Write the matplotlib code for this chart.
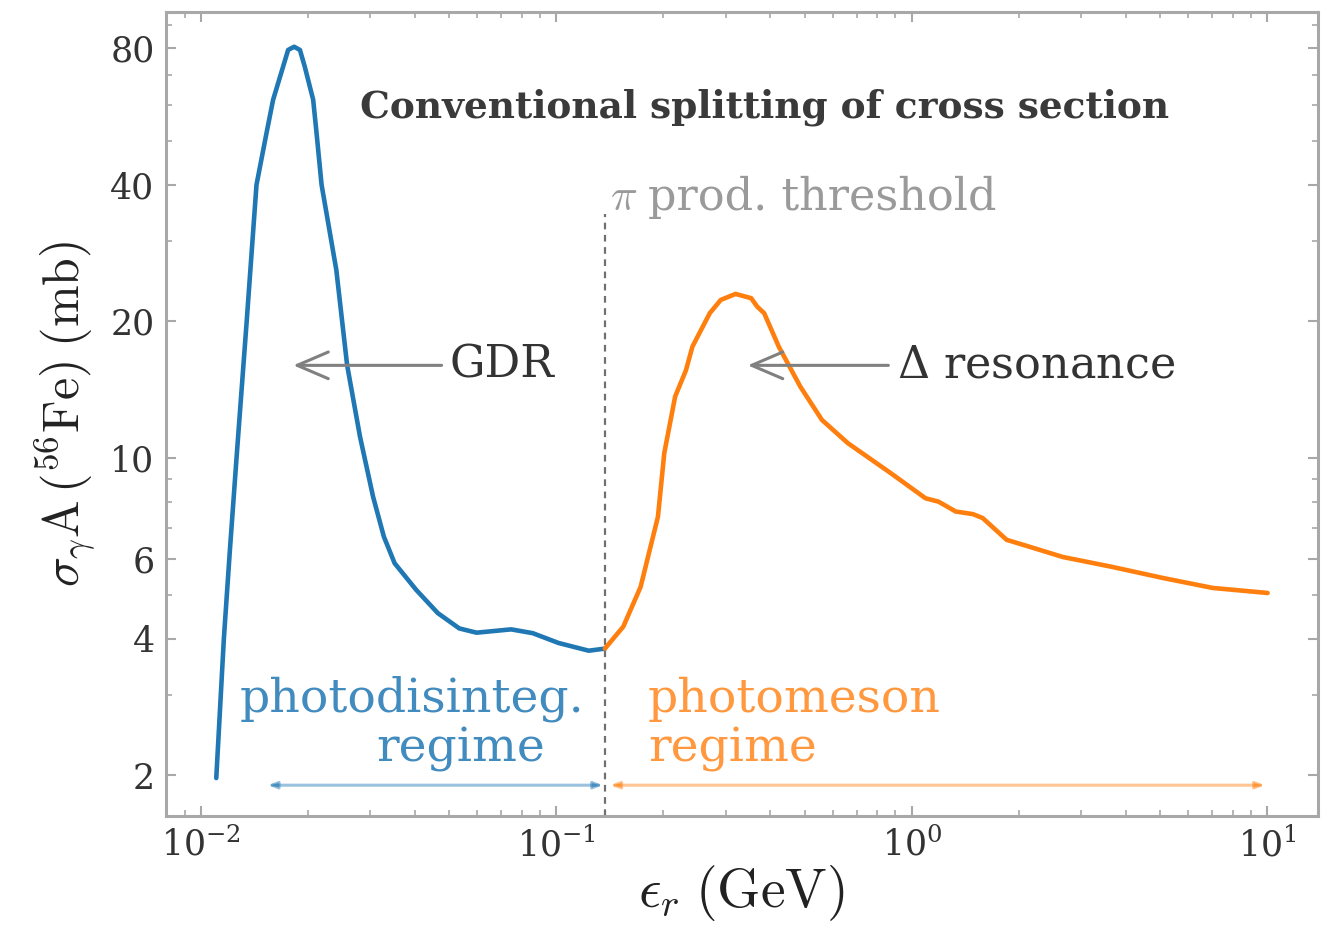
import matplotlib
matplotlib.use("Agg")
import matplotlib.pyplot as plt
from matplotlib.ticker import FixedLocator, FixedFormatter, LogLocator, NullFormatter

plt.rcParams['font.family'] = 'DejaVu Serif'
plt.rcParams['mathtext.fontset'] = 'dejavuserif'

# photodisintegration part (GDR peak), energy in GeV, cross section in mb
gdr_energy = [0.01105, 0.01161, 0.01207, 0.0126, 0.01345, 0.01434, 0.0153, 0.01597,
              0.01704, 0.0176, 0.0183, 0.019, 0.0196, 0.0207, 0.02116, 0.02186,
              0.02405, 0.02579, 0.02804, 0.03051, 0.03272, 0.03509, 0.04035, 0.04642,
              0.05335, 0.05967, 0.07461, 0.08584, 0.1015, 0.1234, 0.137]
gdr_sigma = [1.97, 4.01, 6.27, 10.0, 19.9, 40.0, 52.0, 61.6,
             72.9, 79.3, 80.6, 79.3, 72.9, 61.6, 52.0, 40.0,
             25.97, 16.03, 11.14, 8.22, 6.71, 5.86, 5.12, 4.55,
             4.21, 4.12, 4.19, 4.11, 3.91, 3.76, 3.80]

# photomeson part (Delta resonance and beyond)
pm_energy = [0.137, 0.1544, 0.1727, 0.1932, 0.2013, 0.216, 0.2316, 0.2416,
             0.2703, 0.2902, 0.3195, 0.3534, 0.3676, 0.3845, 0.4225, 0.486,
             0.5589, 0.6612, 0.8745, 1.0935, 1.19, 1.33, 1.487, 1.584,
             1.85, 2.148, 2.66, 3.676, 5.08, 7.03, 10.03]
pm_sigma = [3.80, 4.25, 5.20, 7.42, 10.25, 13.66, 15.6, 17.6,
            20.85, 22.3, 22.99, 22.5, 21.55, 20.85, 17.6, 14.36,
            12.13, 10.78, 9.25, 8.15, 8.01, 7.62, 7.52, 7.37,
            6.60, 6.37, 6.05, 5.75, 5.44, 5.17, 5.04]

threshold = 0.137
y_ticks = [2, 4, 6, 10, 20, 40, 80]
y_tick_labels = ['2', '4', '6', '10', '20', '40', '80']

BLUE = '#1f77b4'
ORANGE = '#ff7f0e'
SPINE = '#a8a8a8'

fig = plt.figure(figsize=(13.23, 9.27), dpi=100)
ax = fig.add_axes([0.1252, 0.120, 0.8710, 0.8674])

ax.plot(gdr_energy, gdr_sigma, color=BLUE, lw=3.3, solid_joinstyle='round',
        solid_capstyle='round', zorder=3)
ax.plot(pm_energy, pm_sigma, color=ORANGE, lw=3.3, solid_joinstyle='round',
        solid_capstyle='round', zorder=3)

ax.set_xscale('log')
ax.set_yscale('log')
ax.set_xlim(0.00796, 13.9)
ax.set_ylim(1.627, 96.3)

# threshold marker
ax.plot([threshold, threshold], [1.627, 34.5], ls=(0, (3, 2.5)), color='#707070', lw=1.6, zorder=2)
ax.text(0.1414, 35.2, r'$\pi$', color='#9a9a9a', fontsize=32,
        math_fontfamily='cm', va='baseline', ha='left')
ax.text(0.1809, 35.2, 'prod. threshold', color='#9a9a9a', fontsize=32,
        va='baseline', ha='left')

ax.text(0.1686, 0.8678, 'Conventional splitting of cross section', transform=ax.transAxes,
        fontsize=27, fontweight='bold', color='#3a3a3a', va='baseline', ha='left')

arrow_kw = dict(arrowstyle='->,head_length=0.7,head_width=0.3', color='#808080', lw=2.2,
                shrinkA=4, shrinkB=0)
ax.annotate('GDR', xy=(0.0182, 16), xytext=(0.0502, 16), arrowprops=arrow_kw,
            fontsize=32, color='#333333', va='center', ha='left')
ax.annotate(r'$\Delta$ resonance', xy=(0.3457, 16), xytext=(0.9074, 16), arrowprops=arrow_kw,
            fontsize=32, color='#333333', va='center', ha='left')

# regime labels and spans
ax.text(0.1202, 2.755, 'photodisinteg.', color=BLUE, alpha=0.85, fontsize=34,
        ha='right', va='baseline')
ax.text(0.0928, 2.138, 'regime', color=BLUE, alpha=0.85, fontsize=34,
        ha='right', va='baseline')
ax.text(0.1809, 2.755, 'photomeson', color=ORANGE, alpha=0.8, fontsize=34,
        ha='left', va='baseline')
ax.text(0.1809, 2.138, 'regime', color=ORANGE, alpha=0.8, fontsize=34,
        ha='left', va='baseline')

span_kw = dict(arrowstyle='<|-|>,head_length=0.5,head_width=0.2', lw=2.2, shrinkA=0, shrinkB=0)
ax.annotate('', xy=(0.1351, 1.9), xytext=(0.01545, 1.9),
            arrowprops=dict(color=BLUE, alpha=0.45, **span_kw))
ax.annotate('', xy=(9.84, 1.9), xytext=(0.1421, 1.9),
            arrowprops=dict(color=ORANGE, alpha=0.45, **span_kw))

# axes styling
ax.yaxis.set_major_locator(FixedLocator(y_ticks))
ax.yaxis.set_major_formatter(FixedFormatter(y_tick_labels))
ax.yaxis.set_minor_locator(LogLocator(base=10, subs=range(1, 10)))
ax.yaxis.set_minor_formatter(NullFormatter())
ax.xaxis.set_minor_locator(LogLocator(base=10, subs=range(2, 10)))
ax.xaxis.set_minor_formatter(NullFormatter())

for s in ax.spines.values():
    s.set_color(SPINE)
    s.set_linewidth(2.2)
ax.tick_params(which='both', direction='in', top=True, right=True, color=SPINE,
               labelsize=25, labelcolor='#333333')
ax.tick_params(which='major', length=7, width=1.5, pad=8)
ax.tick_params(which='minor', length=4, width=1.2)

ax.set_xlabel(r'$\epsilon_r\;(\mathrm{GeV})$', fontsize=40, math_fontfamily='cm',
              color='#222222', labelpad=0)
ax.set_ylabel(r'$\sigma_{\gamma}\mathrm{A}\,(^{56}\mathrm{Fe})\;(\mathrm{mb})$', fontsize=36,
              math_fontfamily='cm', color='#222222', labelpad=8)

fig.savefig('out.png', dpi=100)
